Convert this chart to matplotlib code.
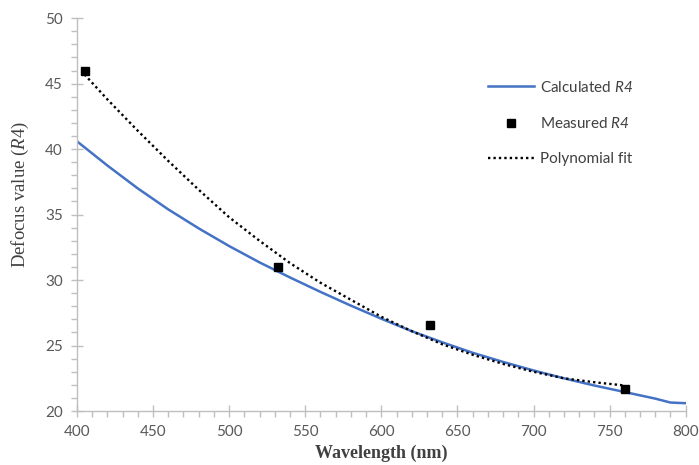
import matplotlib.pyplot as plt
from matplotlib.ticker import MultipleLocator

# Calculated R4 curve
calc_wl = [400, 420, 440, 460, 480, 500, 520, 540, 560, 580, 600, 620, 640, 660, 680, 700,
           720, 740, 760, 780, 790, 800]
calc_r4 = [40.6, 38.75, 37.0, 35.4, 33.95, 32.6, 31.35, 30.2, 29.1, 28.05, 27.05, 26.1, 25.25,
           24.45, 23.75, 23.1, 22.5, 21.95, 21.45, 20.95, 20.65, 20.6]

# Measured R4 points
meas_wl = [405, 532, 632, 760]
meas_r4 = [46.0, 31.0, 26.6, 21.7]

# Polynomial fit through the measurements
fit_wl = [405, 420, 440, 460, 480, 500, 520, 540, 560, 580, 600, 620, 640, 660, 680, 700,
          720, 740, 760]
fit_r4 = [45.7, 43.8, 41.4, 39.1, 36.9, 34.8, 33.0, 31.3, 29.8, 28.5, 27.2, 26.1, 25.1, 24.3,
          23.6, 23.0, 22.5, 22.2, 21.95]

plt.rcParams['mathtext.fontset'] = 'custom'
plt.rcParams['mathtext.it'] = 'Liberation Serif:italic'
plt.rcParams['mathtext.rm'] = 'Liberation Serif'
plt.rcParams['mathtext.sf'] = 'Lato:italic'

fig = plt.figure(figsize=(6.99, 4.65), dpi=100)
ax = fig.add_axes([0.110, 0.116, 0.871, 0.845])

ax.plot(calc_wl, calc_r4, color='#4472C4', linewidth=1.8, label='Calculated $\\mathsf{R4}$')
ax.plot(meas_wl, meas_r4, linestyle='none', marker='s', markersize=6, color='black',
        label='Measured $\\mathsf{R4}$')
ax.plot(fit_wl, fit_r4, color='black', linewidth=1.7, linestyle=(0, (1, 1.3)),
        label='Polynomial fit')

ax.set_xlim(400, 800)
ax.set_ylim(20, 50)
ax.xaxis.set_major_locator(MultipleLocator(50))
ax.xaxis.set_minor_locator(MultipleLocator(10))
ax.yaxis.set_major_locator(MultipleLocator(5))
ax.yaxis.set_minor_locator(MultipleLocator(1))

grey = '#BFBFBF'
for side in ['top', 'right']:
    ax.spines[side].set_visible(False)
for side in ['left', 'bottom']:
    ax.spines[side].set_color(grey)
    ax.spines[side].set_linewidth(1.0)

ax.tick_params(which='major', direction='inout', length=8, color=grey, width=1.0,
               labelsize=11, labelcolor='#595959', pad=6)
ax.tick_params(which='minor', direction='out', length=4, color=grey, width=1.0)
for lab in ax.get_xticklabels() + ax.get_yticklabels():
    lab.set_family('Lato')

ax.set_xlabel('Wavelength (nm)', family='Liberation Serif', fontweight='bold',
              fontsize=13, color='#404040', labelpad=4)
ax.set_ylabel('Defocus value ($\\mathit{R4}$)', family='Liberation Serif',
              fontsize=13.5, color='#404040')
ax.yaxis.set_label_coords(-0.076, 0.55)

leg = ax.legend(loc='upper left', bbox_to_anchor=(0.663, 0.863), frameon=False,
                borderpad=0, handlelength=3.0, handletextpad=0.4, labelspacing=1.4,
                prop={'family': 'Lato', 'size': 11})
for t in leg.get_texts():
    t.set_color('#404040')

fig.savefig('out.png', dpi=100)
